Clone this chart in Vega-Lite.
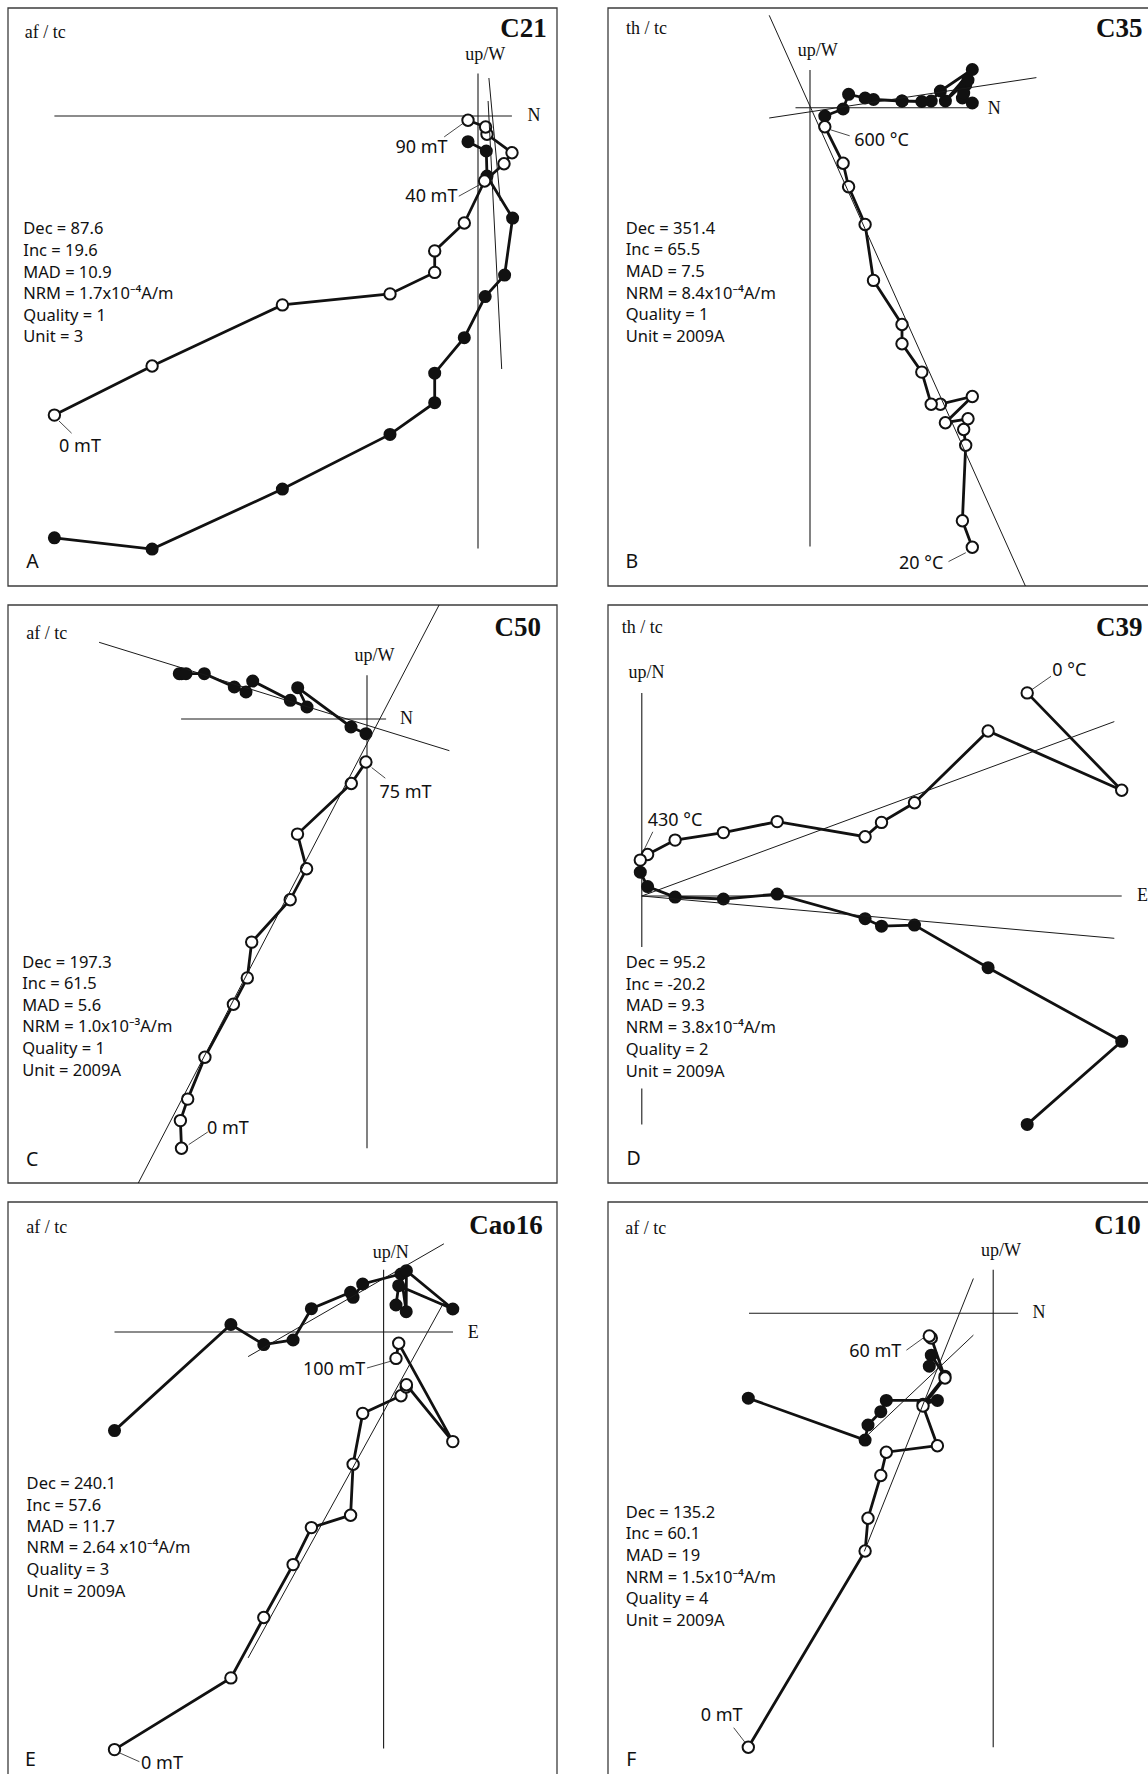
{
  "$schema": "https://vega.github.io/schema/vega-lite/v6.json",
  "padding": {"left": 7, "top": 7, "right": 0, "bottom": 0},
  "spacing": {"row": 17, "column": 49},
  "columns": 2,
  "config": {"view": {"stroke": null}},
  "data": {"values": [
    {"panel":"A","type":"frame","u":-470,"v":-470,"u2":79,"v2":108},
    {"panel":"A","type":"pt","kind":"vertical","step":1,"u":-423.6,"v":-299.1},
    {"panel":"A","type":"pt","kind":"vertical","step":2,"u":-325.9,"v":-250},
    {"panel":"A","type":"pt","kind":"vertical","step":3,"u":-195.6,"v":-188.9},
    {"panel":"A","type":"pt","kind":"vertical","step":4,"u":-88,"v":-177.9},
    {"panel":"A","type":"pt","kind":"vertical","step":5,"u":-43.3,"v":-156.4},
    {"panel":"A","type":"pt","kind":"vertical","step":6,"u":-43.3,"v":-134.9},
    {"panel":"A","type":"pt","kind":"vertical","step":7,"u":-13.7,"v":-107},
    {"panel":"A","type":"pt","kind":"vertical","step":8,"u":6.6,"v":-65},
    {"panel":"A","type":"pt","kind":"vertical","step":9,"u":26,"v":-47.7},
    {"panel":"A","type":"pt","kind":"vertical","step":10,"u":34,"v":-36.7},
    {"panel":"A","type":"pt","kind":"vertical","step":11,"u":9,"v":-18.3},
    {"panel":"A","type":"pt","kind":"vertical","step":12,"u":7.6,"v":-11},
    {"panel":"A","type":"pt","kind":"vertical","step":13,"u":-10,"v":-4.3},
    {"panel":"A","type":"pt","kind":"horizontal","step":1,"u":-423.6,"v":-421.8},
    {"panel":"A","type":"pt","kind":"horizontal","step":2,"u":-325.9,"v":-433.1},
    {"panel":"A","type":"pt","kind":"horizontal","step":3,"u":-195.6,"v":-373.1},
    {"panel":"A","type":"pt","kind":"horizontal","step":4,"u":-88,"v":-318.4},
    {"panel":"A","type":"pt","kind":"horizontal","step":5,"u":-43.3,"v":-286.7},
    {"panel":"A","type":"pt","kind":"horizontal","step":6,"u":-43.3,"v":-257.2},
    {"panel":"A","type":"pt","kind":"horizontal","step":7,"u":-13.7,"v":-221.7},
    {"panel":"A","type":"pt","kind":"horizontal","step":8,"u":7.2,"v":-180.6},
    {"panel":"A","type":"pt","kind":"horizontal","step":9,"u":26.6,"v":-159.1},
    {"panel":"A","type":"pt","kind":"horizontal","step":10,"u":34.6,"v":-102.1},
    {"panel":"A","type":"pt","kind":"horizontal","step":11,"u":9,"v":-60},
    {"panel":"A","type":"pt","kind":"horizontal","step":12,"u":8.3,"v":-35},
    {"panel":"A","type":"pt","kind":"horizontal","step":13,"u":-10,"v":-25.7},
    {"panel":"A","type":"seg","kind":"axis","u":-423.6,"v":0,"u2":33.9,"v2":0},
    {"panel":"A","type":"seg","kind":"axis","u":0,"v":42.5,"u2":0,"v2":-432.4},
    {"panel":"A","type":"seg","kind":"fit","u":10.9,"v":38,"u2":22.3,"v2":-85},
    {"panel":"A","type":"seg","kind":"fit","u":10.1,"v":15,"u2":23.7,"v2":-253},
    {"panel":"A","type":"seg","kind":"leader","u":-33.8,"v":-20.9,"u2":-14.7,"v2":-7.2},
    {"panel":"A","type":"seg","kind":"leader","u":-19.2,"v":-80.2,"u2":1.8,"v2":-68.6},
    {"panel":"A","type":"seg","kind":"leader","u":-419,"v":-305,"u2":-406.4,"v2":-317.2},
    {"panel":"A","type":"label","kind":"serif","u":55.9,"v":0,"text":"N"},
    {"panel":"A","type":"label","kind":"serif","u":7.2,"v":61,"text":"up/W"},
    {"panel":"A","type":"label","kind":"serif","u":-432.8,"v":82.9,"text":"af / tc"},
    {"panel":"A","type":"label","kind":"title","u":68.7,"v":86.7,"text":"C21"},
    {"panel":"A","type":"label","kind":"step","u":-56.5,"v":-32.2,"text":"90 mT"},
    {"panel":"A","type":"label","kind":"step","u":-46.6,"v":-81.3,"text":"40 mT"},
    {"panel":"A","type":"label","kind":"step","u":-398,"v":-330.5,"text":"0 mT"},
    {"panel":"A","type":"label","kind":"stats","u":-454.7,"v":-113.4,"text":"Dec = 87.6"},
    {"panel":"A","type":"label","kind":"stats","u":-454.7,"v":-134.9,"text":"Inc = 19.6"},
    {"panel":"A","type":"label","kind":"stats","u":-454.7,"v":-156.8,"text":"MAD = 10.9"},
    {"panel":"A","type":"label","kind":"stats","u":-454.7,"v":-178.3,"text":"NRM = 1.7x10⁻⁴A/m"},
    {"panel":"A","type":"label","kind":"stats","u":-454.7,"v":-199.8,"text":"Quality = 1"},
    {"panel":"A","type":"label","kind":"stats","u":-454.7,"v":-221,"text":"Unit = 3"},
    {"panel":"A","type":"label","kind":"letter","u":-445.6,"v":-445.6,"text":"A"},

    {"panel":"B","type":"frame","u":-202,"v":-478.2,"u2":347,"v2":99.8},
    {"panel":"B","type":"pt","kind":"vertical","step":1,"u":162.3,"v":-439.4},
    {"panel":"B","type":"pt","kind":"vertical","step":2,"u":152.4,"v":-413},
    {"panel":"B","type":"pt","kind":"vertical","step":3,"u":155.7,"v":-337.5},
    {"panel":"B","type":"pt","kind":"vertical","step":4,"u":153.7,"v":-321.7},
    {"panel":"B","type":"pt","kind":"vertical","step":5,"u":158,"v":-311},
    {"panel":"B","type":"pt","kind":"vertical","step":6,"u":135.4,"v":-314.9},
    {"panel":"B","type":"pt","kind":"vertical","step":7,"u":162.3,"v":-288.7},
    {"panel":"B","type":"pt","kind":"vertical","step":8,"u":130.4,"v":-296.4},
    {"panel":"B","type":"pt","kind":"vertical","step":9,"u":121.2,"v":-296.4},
    {"panel":"B","type":"pt","kind":"vertical","step":10,"u":111.8,"v":-264.3},
    {"panel":"B","type":"pt","kind":"vertical","step":11,"u":92,"v":-236},
    {"panel":"B","type":"pt","kind":"vertical","step":12,"u":92,"v":-216.7},
    {"panel":"B","type":"pt","kind":"vertical","step":13,"u":63.5,"v":-172.6},
    {"panel":"B","type":"pt","kind":"vertical","step":14,"u":55.1,"v":-116.7},
    {"panel":"B","type":"pt","kind":"vertical","step":15,"u":38.6,"v":-78.9},
    {"panel":"B","type":"pt","kind":"vertical","step":16,"u":33.1,"v":-55.5},
    {"panel":"B","type":"pt","kind":"vertical","step":17,"u":14.8,"v":-18.9},
    {"panel":"B","type":"pt","kind":"horizontal","step":1,"u":162.3,"v":4.8},
    {"panel":"B","type":"pt","kind":"horizontal","step":2,"u":152.4,"v":9.8},
    {"panel":"B","type":"pt","kind":"horizontal","step":3,"u":155.7,"v":22.8},
    {"panel":"B","type":"pt","kind":"horizontal","step":4,"u":153.7,"v":14.8},
    {"panel":"B","type":"pt","kind":"horizontal","step":5,"u":158,"v":27.8},
    {"panel":"B","type":"pt","kind":"horizontal","step":6,"u":135.4,"v":6.8},
    {"panel":"B","type":"pt","kind":"horizontal","step":7,"u":162.3,"v":38.3},
    {"panel":"B","type":"pt","kind":"horizontal","step":8,"u":130.4,"v":16.8},
    {"panel":"B","type":"pt","kind":"horizontal","step":9,"u":121.2,"v":6.8},
    {"panel":"B","type":"pt","kind":"horizontal","step":10,"u":111.8,"v":6.3},
    {"panel":"B","type":"pt","kind":"horizontal","step":11,"u":92,"v":6.8},
    {"panel":"B","type":"pt","kind":"horizontal","step":12,"u":92,"v":6.8},
    {"panel":"B","type":"pt","kind":"horizontal","step":13,"u":63.5,"v":8.3},
    {"panel":"B","type":"pt","kind":"horizontal","step":14,"u":55.1,"v":9.8},
    {"panel":"B","type":"pt","kind":"horizontal","step":15,"u":38.6,"v":13.5},
    {"panel":"B","type":"pt","kind":"horizontal","step":16,"u":33.1,"v":-1.2},
    {"panel":"B","type":"pt","kind":"horizontal","step":17,"u":14.8,"v":-8.2},
    {"panel":"B","type":"seg","kind":"axis","u":-14.5,"v":0,"u2":162.3,"v2":0},
    {"panel":"B","type":"seg","kind":"axis","u":0,"v":37.7,"u2":0,"v2":-438.7},
    {"panel":"B","type":"seg","kind":"fit","u":-40.8,"v":92.5,"u2":215.4,"v2":-478.2},
    {"panel":"B","type":"seg","kind":"fit","u":-40.8,"v":-10.2,"u2":226.4,"v2":30.2},
    {"panel":"B","type":"seg","kind":"leader","u":20.6,"v":-22,"u2":39.7,"v2":-28},
    {"panel":"B","type":"seg","kind":"leader","u":138.5,"v":-453.8,"u2":155.8,"v2":-444.9},
    {"panel":"B","type":"label","kind":"serif","u":184.3,"v":-0.8,"text":"N"},
    {"panel":"B","type":"label","kind":"serif","u":7.8,"v":56.6,"text":"up/W"},
    {"panel":"B","type":"label","kind":"serif","u":-163.5,"v":78.5,"text":"th / tc"},
    {"panel":"B","type":"label","kind":"title","u":332.5,"v":78.5,"text":"C35"},
    {"panel":"B","type":"label","kind":"step","u":71.5,"v":-33.6,"text":"600 °C"},
    {"panel":"B","type":"label","kind":"step","u":111.1,"v":-455.7,"text":"20 °C"},
    {"panel":"B","type":"label","kind":"stats","u":-184.3,"v":-120.8,"text":"Dec = 351.4"},
    {"panel":"B","type":"label","kind":"stats","u":-184.3,"v":-142.4,"text":"Inc = 65.5"},
    {"panel":"B","type":"label","kind":"stats","u":-184.3,"v":-164.2,"text":"MAD = 7.5"},
    {"panel":"B","type":"label","kind":"stats","u":-184.3,"v":-185.8,"text":"NRM = 8.4x10⁻⁴A/m"},
    {"panel":"B","type":"label","kind":"stats","u":-184.3,"v":-207.3,"text":"Quality = 1"},
    {"panel":"B","type":"label","kind":"stats","u":-184.3,"v":-229.2,"text":"Unit = 2009A"},
    {"panel":"B","type":"label","kind":"letter","u":-178.1,"v":-453.8,"text":"B"},

    {"panel":"C","type":"frame","u":-359,"v":-464,"u2":190,"v2":114},
    {"panel":"C","type":"pt","kind":"vertical","step":1,"u":-185.5,"v":-429.2},
    {"panel":"C","type":"pt","kind":"vertical","step":2,"u":-186.6,"v":-401.6},
    {"panel":"C","type":"pt","kind":"vertical","step":3,"u":-179.3,"v":-380.1},
    {"panel":"C","type":"pt","kind":"vertical","step":4,"u":-162.1,"v":-338.2},
    {"panel":"C","type":"pt","kind":"vertical","step":5,"u":-133.6,"v":-285.3},
    {"panel":"C","type":"pt","kind":"vertical","step":6,"u":-119.7,"v":-258.9},
    {"panel":"C","type":"pt","kind":"vertical","step":7,"u":-115.3,"v":-223.1},
    {"panel":"C","type":"pt","kind":"vertical","step":8,"u":-76.8,"v":-180.8},
    {"panel":"C","type":"pt","kind":"vertical","step":9,"u":-60.4,"v":-149.8},
    {"panel":"C","type":"pt","kind":"vertical","step":10,"u":-69.5,"v":-115.1},
    {"panel":"C","type":"pt","kind":"vertical","step":11,"u":-15.7,"v":-64.5},
    {"panel":"C","type":"pt","kind":"vertical","step":12,"u":-1.1,"v":-43},
    {"panel":"C","type":"pt","kind":"horizontal","step":1,"u":-185.5,"v":45.3},
    {"panel":"C","type":"pt","kind":"horizontal","step":2,"u":-187.7,"v":45.3},
    {"panel":"C","type":"pt","kind":"horizontal","step":3,"u":-181,"v":45.3},
    {"panel":"C","type":"pt","kind":"horizontal","step":4,"u":-162.7,"v":45.3},
    {"panel":"C","type":"pt","kind":"horizontal","step":5,"u":-132.7,"v":32},
    {"panel":"C","type":"pt","kind":"horizontal","step":6,"u":-121,"v":27},
    {"panel":"C","type":"pt","kind":"horizontal","step":7,"u":-114.3,"v":38},
    {"panel":"C","type":"pt","kind":"horizontal","step":8,"u":-76.7,"v":18.7},
    {"panel":"C","type":"pt","kind":"horizontal","step":9,"u":-60,"v":12},
    {"panel":"C","type":"pt","kind":"horizontal","step":10,"u":-69.3,"v":31.3},
    {"panel":"C","type":"pt","kind":"horizontal","step":11,"u":-16,"v":-8},
    {"panel":"C","type":"pt","kind":"horizontal","step":12,"u":-1,"v":-14.7},
    {"panel":"C","type":"seg","kind":"axis","u":-185.9,"v":0,"u2":19.1,"v2":0},
    {"panel":"C","type":"seg","kind":"axis","u":0,"v":43.8,"u2":0,"v2":-429.2},
    {"panel":"C","type":"seg","kind":"fit","u":-267.9,"v":76.7,"u2":82.4,"v2":-31.7},
    {"panel":"C","type":"seg","kind":"fit","u":72.1,"v":114,"u2":-228.7,"v2":-464},
    {"panel":"C","type":"seg","kind":"leader","u":4.7,"v":-48.6,"u2":18.3,"v2":-59.2},
    {"panel":"C","type":"seg","kind":"leader","u":-178.3,"v":-425.6,"u2":-159.2,"v2":-413},
    {"panel":"C","type":"label","kind":"serif","u":39.6,"v":0,"text":"N"},
    {"panel":"C","type":"label","kind":"serif","u":7.4,"v":62.7,"text":"up/W"},
    {"panel":"C","type":"label","kind":"serif","u":-320.2,"v":85.4,"text":"af / tc"},
    {"panel":"C","type":"label","kind":"title","u":173.9,"v":91,"text":"C50"},
    {"panel":"C","type":"label","kind":"step","u":38.5,"v":-74,"text":"75 mT"},
    {"panel":"C","type":"label","kind":"step","u":-139.1,"v":-410.3,"text":"0 mT"},
    {"panel":"C","type":"label","kind":"stats","u":-344.8,"v":-243.8,"text":"Dec = 197.3"},
    {"panel":"C","type":"label","kind":"stats","u":-344.8,"v":-264.9,"text":"Inc = 61.5"},
    {"panel":"C","type":"label","kind":"stats","u":-344.8,"v":-286.5,"text":"MAD = 5.6"},
    {"panel":"C","type":"label","kind":"stats","u":-344.8,"v":-308.4,"text":"NRM = 1.0x10⁻³A/m"},
    {"panel":"C","type":"label","kind":"stats","u":-344.8,"v":-329.9,"text":"Quality = 1"},
    {"panel":"C","type":"label","kind":"stats","u":-344.8,"v":-351.8,"text":"Unit = 2009A"},
    {"panel":"C","type":"label","kind":"letter","u":-334.9,"v":-441.3,"text":"C"},

    {"panel":"D","type":"frame","u":-33.8,"v":-287,"u2":515.2,"v2":291},
    {"panel":"D","type":"pt","kind":"vertical","step":1,"u":385.4,"v":203.1},
    {"panel":"D","type":"pt","kind":"vertical","step":2,"u":479.9,"v":105.7},
    {"panel":"D","type":"pt","kind":"vertical","step":3,"u":346.3,"v":165},
    {"panel":"D","type":"pt","kind":"vertical","step":4,"u":272.7,"v":93.2},
    {"panel":"D","type":"pt","kind":"vertical","step":5,"u":239.7,"v":73.6},
    {"panel":"D","type":"pt","kind":"vertical","step":6,"u":223.3,"v":59.3},
    {"panel":"D","type":"pt","kind":"vertical","step":7,"u":135.4,"v":74.4},
    {"panel":"D","type":"pt","kind":"vertical","step":8,"u":81.6,"v":63.4},
    {"panel":"D","type":"pt","kind":"vertical","step":9,"u":33.3,"v":55.9},
    {"panel":"D","type":"pt","kind":"vertical","step":10,"u":5.8,"v":41.5},
    {"panel":"D","type":"pt","kind":"vertical","step":11,"u":-1.5,"v":35.9},
    {"panel":"D","type":"pt","kind":"horizontal","step":1,"u":385.4,"v":-228.4},
    {"panel":"D","type":"pt","kind":"horizontal","step":2,"u":479.9,"v":-145.3},
    {"panel":"D","type":"pt","kind":"horizontal","step":3,"u":346.3,"v":-71.7},
    {"panel":"D","type":"pt","kind":"horizontal","step":4,"u":272.7,"v":-29.1},
    {"panel":"D","type":"pt","kind":"horizontal","step":5,"u":239.7,"v":-30.2},
    {"panel":"D","type":"pt","kind":"horizontal","step":6,"u":223.3,"v":-22.7},
    {"panel":"D","type":"pt","kind":"horizontal","step":7,"u":135.4,"v":1.9},
    {"panel":"D","type":"pt","kind":"horizontal","step":8,"u":81.6,"v":-3},
    {"panel":"D","type":"pt","kind":"horizontal","step":9,"u":33.3,"v":-1.1},
    {"panel":"D","type":"pt","kind":"horizontal","step":10,"u":5.8,"v":9.4},
    {"panel":"D","type":"pt","kind":"horizontal","step":11,"u":-1.5,"v":23.8},
    {"panel":"D","type":"seg","kind":"axis","u":0,"v":0,"u2":479.9,"v2":0},
    {"panel":"D","type":"seg","kind":"axis","u":0,"v":203.1,"u2":0,"v2":-51},
    {"panel":"D","type":"seg","kind":"axis","u":0,"v":-192.5,"u2":0,"v2":-228.4},
    {"panel":"D","type":"seg","kind":"fit","u":0,"v":0,"u2":472.5,"v2":174.4},
    {"panel":"D","type":"seg","kind":"fit","u":0,"v":0,"u2":472.5,"v2":-42.3},
    {"panel":"D","type":"seg","kind":"leader","u":390.1,"v":206.4,"u2":409.2,"v2":219.7},
    {"panel":"D","type":"seg","kind":"leader","u":0.5,"v":42.5,"u2":11,"v2":64.2},
    {"panel":"D","type":"label","kind":"serif","u":500.7,"v":0,"text":"E"},
    {"panel":"D","type":"label","kind":"serif","u":4.7,"v":222.7,"text":"up/N"},
    {"panel":"D","type":"label","kind":"serif","u":0.4,"v":268,"text":"th / tc"},
    {"panel":"D","type":"label","kind":"title","u":500.7,"v":268,"text":"C39"},
    {"panel":"D","type":"label","kind":"step","u":427.5,"v":224.6,"text":"0 °C"},
    {"panel":"D","type":"label","kind":"step","u":33.3,"v":75.5,"text":"430 °C"},
    {"panel":"D","type":"label","kind":"stats","u":-16.1,"v":-66.8,"text":"Dec = 95.2"},
    {"panel":"D","type":"label","kind":"stats","u":-16.1,"v":-88.7,"text":"Inc = -20.2"},
    {"panel":"D","type":"label","kind":"stats","u":-16.1,"v":-110.2,"text":"MAD = 9.3"},
    {"panel":"D","type":"label","kind":"stats","u":-16.1,"v":-132.1,"text":"NRM = 3.8x10⁻⁴A/m"},
    {"panel":"D","type":"label","kind":"stats","u":-16.1,"v":-154,"text":"Quality = 2"},
    {"panel":"D","type":"label","kind":"stats","u":-16.1,"v":-175.5,"text":"Unit = 2009A"},
    {"panel":"D","type":"label","kind":"letter","u":-8.1,"v":-263.1,"text":"D"},

    {"panel":"E","type":"frame","u":-375.6,"v":-448,"u2":173.4,"v2":130},
    {"panel":"E","type":"pt","kind":"vertical","step":1,"u":-269.1,"v":-417.6},
    {"panel":"E","type":"pt","kind":"vertical","step":2,"u":-152.7,"v":-345.9},
    {"panel":"E","type":"pt","kind":"vertical","step":3,"u":-119.8,"v":-285.5},
    {"panel":"E","type":"pt","kind":"vertical","step":4,"u":-90.5,"v":-232.6},
    {"panel":"E","type":"pt","kind":"vertical","step":5,"u":-72.2,"v":-195.6},
    {"panel":"E","type":"pt","kind":"vertical","step":6,"u":-33,"v":-183.2},
    {"panel":"E","type":"pt","kind":"vertical","step":7,"u":-30.5,"v":-132.2},
    {"panel":"E","type":"pt","kind":"vertical","step":8,"u":-20.9,"v":-81.4},
    {"panel":"E","type":"pt","kind":"vertical","step":9,"u":17.4,"v":-63.7},
    {"panel":"E","type":"pt","kind":"vertical","step":10,"u":22.6,"v":-55},
    {"panel":"E","type":"pt","kind":"vertical","step":11,"u":22.8,"v":-52.8},
    {"panel":"E","type":"pt","kind":"vertical","step":12,"u":69.2,"v":-109.6},
    {"panel":"E","type":"pt","kind":"vertical","step":13,"u":15.1,"v":-11.3},
    {"panel":"E","type":"pt","kind":"vertical","step":14,"u":12.4,"v":-26.4},
    {"panel":"E","type":"pt","kind":"horizontal","step":1,"u":-269.1,"v":-98.6},
    {"panel":"E","type":"pt","kind":"horizontal","step":2,"u":-152.7,"v":7.5},
    {"panel":"E","type":"pt","kind":"horizontal","step":3,"u":-119.8,"v":-12.6},
    {"panel":"E","type":"pt","kind":"horizontal","step":4,"u":-90.5,"v":-8},
    {"panel":"E","type":"pt","kind":"horizontal","step":5,"u":-72.2,"v":23.3},
    {"panel":"E","type":"pt","kind":"horizontal","step":6,"u":-33,"v":39.7},
    {"panel":"E","type":"pt","kind":"horizontal","step":7,"u":-30.5,"v":34.7},
    {"panel":"E","type":"pt","kind":"horizontal","step":8,"u":-20.9,"v":48},
    {"panel":"E","type":"pt","kind":"horizontal","step":9,"u":17.4,"v":58},
    {"panel":"E","type":"pt","kind":"horizontal","step":10,"u":22.6,"v":20.3},
    {"panel":"E","type":"pt","kind":"horizontal","step":11,"u":22.8,"v":61.3},
    {"panel":"E","type":"pt","kind":"horizontal","step":12,"u":69.2,"v":23},
    {"panel":"E","type":"pt","kind":"horizontal","step":13,"u":15.1,"v":46.3},
    {"panel":"E","type":"pt","kind":"horizontal","step":14,"u":12.4,"v":27},
    {"panel":"E","type":"seg","kind":"axis","u":-269.1,"v":0,"u2":69.4,"v2":0},
    {"panel":"E","type":"seg","kind":"axis","u":0,"v":62.2,"u2":0,"v2":-416.5},
    {"panel":"E","type":"seg","kind":"fit","u":-135.5,"v":-24.6,"u2":60.3,"v2":88.2},
    {"panel":"E","type":"seg","kind":"fit","u":-135.5,"v":-325.9,"u2":60.3,"v2":29.7},
    {"panel":"E","type":"seg","kind":"leader","u":-16.6,"v":-36,"u2":7.3,"v2":-29.2},
    {"panel":"E","type":"seg","kind":"leader","u":-264.5,"v":-420.7,"u2":-244.2,"v2":-429.7},
    {"panel":"E","type":"label","kind":"serif","u":89.6,"v":-0.5,"text":"E"},
    {"panel":"E","type":"label","kind":"serif","u":7.2,"v":78.8,"text":"up/N"},
    {"panel":"E","type":"label","kind":"serif","u":-336.8,"v":104.5,"text":"af / tc"},
    {"panel":"E","type":"label","kind":"title","u":159.1,"v":106.4,"text":"Cao16"},
    {"panel":"E","type":"label","kind":"step","u":-49.5,"v":-38.2,"text":"100 mT"},
    {"panel":"E","type":"label","kind":"step","u":-221.6,"v":-431.6,"text":"0 mT"},
    {"panel":"E","type":"label","kind":"stats","u":-357,"v":-152.2,"text":"Dec = 240.1"},
    {"panel":"E","type":"label","kind":"stats","u":-357,"v":-173.7,"text":"Inc = 57.6"},
    {"panel":"E","type":"label","kind":"stats","u":-357,"v":-194.9,"text":"MAD = 11.7"},
    {"panel":"E","type":"label","kind":"stats","u":-357,"v":-216.4,"text":"NRM = 2.64 x10⁻⁴A/m"},
    {"panel":"E","type":"label","kind":"stats","u":-357,"v":-238.3,"text":"Quality = 3"},
    {"panel":"E","type":"label","kind":"stats","u":-357,"v":-259.8,"text":"Unit = 2009A"},
    {"panel":"E","type":"label","kind":"letter","u":-353.3,"v":-427.8,"text":"E"},

    {"panel":"F","type":"frame","u":-385.2,"v":-466.8,"u2":163.8,"v2":111.2},
    {"panel":"F","type":"pt","kind":"vertical","step":1,"u":-244.9,"v":-434.1},
    {"panel":"F","type":"pt","kind":"vertical","step":2,"u":-128.1,"v":-237.8},
    {"panel":"F","type":"pt","kind":"vertical","step":3,"u":-125.2,"v":-205},
    {"panel":"F","type":"pt","kind":"vertical","step":4,"u":-112.4,"v":-162.3},
    {"panel":"F","type":"pt","kind":"vertical","step":5,"u":-106.9,"v":-139},
    {"panel":"F","type":"pt","kind":"vertical","step":6,"u":-55.8,"v":-132.5},
    {"panel":"F","type":"pt","kind":"vertical","step":7,"u":-70.2,"v":-92.8},
    {"panel":"F","type":"pt","kind":"vertical","step":8,"u":-48.2,"v":-64.8},
    {"panel":"F","type":"pt","kind":"vertical","step":9,"u":-61.9,"v":-24.8},
    {"panel":"F","type":"pt","kind":"vertical","step":10,"u":-63.9,"v":-22.8},
    {"panel":"F","type":"pt","kind":"horizontal","step":1,"u":-244.9,"v":-85},
    {"panel":"F","type":"pt","kind":"horizontal","step":2,"u":-128.1,"v":-126.9},
    {"panel":"F","type":"pt","kind":"horizontal","step":3,"u":-125.2,"v":-111.8},
    {"panel":"F","type":"pt","kind":"horizontal","step":4,"u":-112.4,"v":-98.5},
    {"panel":"F","type":"pt","kind":"horizontal","step":5,"u":-106.9,"v":-87.2},
    {"panel":"F","type":"pt","kind":"horizontal","step":6,"u":-55.8,"v":-87.2},
    {"panel":"F","type":"pt","kind":"horizontal","step":7,"u":-70.2,"v":-91},
    {"panel":"F","type":"pt","kind":"horizontal","step":8,"u":-48.2,"v":-63},
    {"panel":"F","type":"pt","kind":"horizontal","step":9,"u":-61.9,"v":-42},
    {"panel":"F","type":"pt","kind":"horizontal","step":10,"u":-63.9,"v":-53},
    {"panel":"F","type":"seg","kind":"axis","u":-244.2,"v":0,"u2":24.9,"v2":0},
    {"panel":"F","type":"seg","kind":"axis","u":0,"v":43.4,"u2":0,"v2":-434.1},
    {"panel":"F","type":"seg","kind":"fit","u":-19.8,"v":34.7,"u2":-128.9,"v2":-238.2},
    {"panel":"F","type":"seg","kind":"fit","u":-19.8,"v":-21.9,"u2":-128.9,"v2":-125},
    {"panel":"F","type":"seg","kind":"leader","u":-86.8,"v":-37,"u2":-69.5,"v2":-24.5},
    {"panel":"F","type":"seg","kind":"leader","u":-259.5,"v":-414.5,"u2":-247.7,"v2":-429.8},
    {"panel":"F","type":"label","kind":"serif","u":45.8,"v":0,"text":"N"},
    {"panel":"F","type":"label","kind":"serif","u":7.7,"v":62.3,"text":"up/W"},
    {"panel":"F","type":"label","kind":"serif","u":-347.4,"v":84.5,"text":"af / tc"},
    {"panel":"F","type":"label","kind":"title","u":147.5,"v":87.6,"text":"C10"},
    {"panel":"F","type":"label","kind":"step","u":-117.9,"v":-38.9,"text":"60 mT"},
    {"panel":"F","type":"label","kind":"step","u":-271.6,"v":-402.4,"text":"0 mT"},
    {"panel":"F","type":"label","kind":"stats","u":-367.5,"v":-199.3,"text":"Dec = 135.2"},
    {"panel":"F","type":"label","kind":"stats","u":-367.5,"v":-220.9,"text":"Inc = 60.1"},
    {"panel":"F","type":"label","kind":"stats","u":-367.5,"v":-242.8,"text":"MAD = 19"},
    {"panel":"F","type":"label","kind":"stats","u":-367.5,"v":-264.3,"text":"NRM = 1.5x10⁻⁴A/m"},
    {"panel":"F","type":"label","kind":"stats","u":-367.5,"v":-286.2,"text":"Quality = 4"},
    {"panel":"F","type":"label","kind":"stats","u":-367.5,"v":-307.7,"text":"Unit = 2009A"},
    {"panel":"F","type":"label","kind":"letter","u":-362,"v":-446.6,"text":"F"}
  ]},
  "concat": [
    {"transform": [{"filter": "datum.panel === 'A'"}], "width": 549, "height": 578,
     "encoding": {"x": {"field": "u", "type": "quantitative", "axis": null, "scale": {"zero": false, "nice": false, "padding": 0}}, "y": {"field": "v", "type": "quantitative", "axis": null, "scale": {"zero": false, "nice": false, "padding": 0}}},
     "layer": [
      {"transform": [{"filter": "datum.type === 'frame'"}], "mark": {"type": "rect", "filled": false, "stroke": "#3c3c3c", "strokeWidth": 1.3}, "encoding": {"x2": {"field": "u2"}, "y2": {"field": "v2"}}},
      {"transform": [{"filter": "datum.type === 'seg' && datum.kind === 'axis'"}], "mark": {"type": "rule", "color": "#1a1a1a", "strokeWidth": 1.1}, "encoding": {"x2": {"field": "u2"}, "y2": {"field": "v2"}}},
      {"transform": [{"filter": "datum.type === 'pt'"}], "mark": {"type": "line", "color": "#111111", "strokeWidth": 2.8}, "encoding": {"detail": {"field": "kind"}, "order": {"field": "step", "type": "quantitative"}}},
      {"transform": [{"filter": "datum.type === 'pt' && datum.kind === 'horizontal'"}], "mark": {"type": "point", "shape": "circle", "filled": true, "color": "#111111", "size": 170, "opacity": 1}},
      {"transform": [{"filter": "datum.type === 'pt' && datum.kind === 'vertical'"}], "mark": {"type": "point", "shape": "circle", "filled": true, "fill": "white", "stroke": "#111111", "strokeWidth": 2, "size": 130, "opacity": 1}},
      {"transform": [{"filter": "datum.type === 'seg' && datum.kind === 'fit'"}], "mark": {"type": "rule", "color": "#1a1a1a", "strokeWidth": 1}, "encoding": {"x2": {"field": "u2"}, "y2": {"field": "v2"}}},
      {"transform": [{"filter": "datum.type === 'seg' && datum.kind === 'leader'"}], "mark": {"type": "rule", "color": "#1a1a1a", "strokeWidth": 0.8}, "encoding": {"x2": {"field": "u2"}, "y2": {"field": "v2"}}},
      {"transform": [{"filter": "datum.type === 'label' && datum.kind === 'serif'"}], "mark": {"type": "text", "font": "Liberation Serif", "fontSize": 18, "align": "center", "baseline": "middle", "color": "#111111"}, "encoding": {"text": {"field": "text"}}},
      {"transform": [{"filter": "datum.type === 'label' && datum.kind === 'title'"}], "mark": {"type": "text", "font": "Liberation Serif", "fontWeight": "bold", "fontSize": 27, "align": "right", "baseline": "middle", "color": "#111111"}, "encoding": {"text": {"field": "text"}}},
      {"transform": [{"filter": "datum.type === 'label' && datum.kind === 'step'"}], "mark": {"type": "text", "font": "Noto Sans", "fontSize": 18, "align": "center", "baseline": "middle", "color": "#111111"}, "encoding": {"text": {"field": "text"}}},
      {"transform": [{"filter": "datum.type === 'label' && datum.kind === 'stats'"}], "mark": {"type": "text", "font": "Noto Sans", "fontSize": 16.5, "align": "left", "baseline": "middle", "color": "#111111"}, "encoding": {"text": {"field": "text"}}},
      {"transform": [{"filter": "datum.type === 'label' && datum.kind === 'letter'"}], "mark": {"type": "text", "font": "Noto Sans", "fontSize": 19.5, "align": "center", "baseline": "middle", "color": "#111111"}, "encoding": {"text": {"field": "text"}}}
     ]},
    {"transform": [{"filter": "datum.panel === 'B'"}], "width": 549, "height": 578,
     "encoding": {"x": {"field": "u", "type": "quantitative", "axis": null, "scale": {"zero": false, "nice": false, "padding": 0}}, "y": {"field": "v", "type": "quantitative", "axis": null, "scale": {"zero": false, "nice": false, "padding": 0}}},
     "layer": [
      {"transform": [{"filter": "datum.type === 'frame'"}], "mark": {"type": "rect", "filled": false, "stroke": "#3c3c3c", "strokeWidth": 1.3}, "encoding": {"x2": {"field": "u2"}, "y2": {"field": "v2"}}},
      {"transform": [{"filter": "datum.type === 'seg' && datum.kind === 'axis'"}], "mark": {"type": "rule", "color": "#1a1a1a", "strokeWidth": 1.1}, "encoding": {"x2": {"field": "u2"}, "y2": {"field": "v2"}}},
      {"transform": [{"filter": "datum.type === 'pt'"}], "mark": {"type": "line", "color": "#111111", "strokeWidth": 2.8}, "encoding": {"detail": {"field": "kind"}, "order": {"field": "step", "type": "quantitative"}}},
      {"transform": [{"filter": "datum.type === 'pt' && datum.kind === 'horizontal'"}], "mark": {"type": "point", "shape": "circle", "filled": true, "color": "#111111", "size": 170, "opacity": 1}},
      {"transform": [{"filter": "datum.type === 'pt' && datum.kind === 'vertical'"}], "mark": {"type": "point", "shape": "circle", "filled": true, "fill": "white", "stroke": "#111111", "strokeWidth": 2, "size": 130, "opacity": 1}},
      {"transform": [{"filter": "datum.type === 'seg' && datum.kind === 'fit'"}], "mark": {"type": "rule", "color": "#1a1a1a", "strokeWidth": 1}, "encoding": {"x2": {"field": "u2"}, "y2": {"field": "v2"}}},
      {"transform": [{"filter": "datum.type === 'seg' && datum.kind === 'leader'"}], "mark": {"type": "rule", "color": "#1a1a1a", "strokeWidth": 0.8}, "encoding": {"x2": {"field": "u2"}, "y2": {"field": "v2"}}},
      {"transform": [{"filter": "datum.type === 'label' && datum.kind === 'serif'"}], "mark": {"type": "text", "font": "Liberation Serif", "fontSize": 18, "align": "center", "baseline": "middle", "color": "#111111"}, "encoding": {"text": {"field": "text"}}},
      {"transform": [{"filter": "datum.type === 'label' && datum.kind === 'title'"}], "mark": {"type": "text", "font": "Liberation Serif", "fontWeight": "bold", "fontSize": 27, "align": "right", "baseline": "middle", "color": "#111111"}, "encoding": {"text": {"field": "text"}}},
      {"transform": [{"filter": "datum.type === 'label' && datum.kind === 'step'"}], "mark": {"type": "text", "font": "Noto Sans", "fontSize": 18, "align": "center", "baseline": "middle", "color": "#111111"}, "encoding": {"text": {"field": "text"}}},
      {"transform": [{"filter": "datum.type === 'label' && datum.kind === 'stats'"}], "mark": {"type": "text", "font": "Noto Sans", "fontSize": 16.5, "align": "left", "baseline": "middle", "color": "#111111"}, "encoding": {"text": {"field": "text"}}},
      {"transform": [{"filter": "datum.type === 'label' && datum.kind === 'letter'"}], "mark": {"type": "text", "font": "Noto Sans", "fontSize": 19.5, "align": "center", "baseline": "middle", "color": "#111111"}, "encoding": {"text": {"field": "text"}}}
     ]},
    {"transform": [{"filter": "datum.panel === 'C'"}], "width": 549, "height": 578,
     "encoding": {"x": {"field": "u", "type": "quantitative", "axis": null, "scale": {"zero": false, "nice": false, "padding": 0}}, "y": {"field": "v", "type": "quantitative", "axis": null, "scale": {"zero": false, "nice": false, "padding": 0}}},
     "layer": [
      {"transform": [{"filter": "datum.type === 'frame'"}], "mark": {"type": "rect", "filled": false, "stroke": "#3c3c3c", "strokeWidth": 1.3}, "encoding": {"x2": {"field": "u2"}, "y2": {"field": "v2"}}},
      {"transform": [{"filter": "datum.type === 'seg' && datum.kind === 'axis'"}], "mark": {"type": "rule", "color": "#1a1a1a", "strokeWidth": 1.1}, "encoding": {"x2": {"field": "u2"}, "y2": {"field": "v2"}}},
      {"transform": [{"filter": "datum.type === 'pt'"}], "mark": {"type": "line", "color": "#111111", "strokeWidth": 2.8}, "encoding": {"detail": {"field": "kind"}, "order": {"field": "step", "type": "quantitative"}}},
      {"transform": [{"filter": "datum.type === 'pt' && datum.kind === 'horizontal'"}], "mark": {"type": "point", "shape": "circle", "filled": true, "color": "#111111", "size": 170, "opacity": 1}},
      {"transform": [{"filter": "datum.type === 'pt' && datum.kind === 'vertical'"}], "mark": {"type": "point", "shape": "circle", "filled": true, "fill": "white", "stroke": "#111111", "strokeWidth": 2, "size": 130, "opacity": 1}},
      {"transform": [{"filter": "datum.type === 'seg' && datum.kind === 'fit'"}], "mark": {"type": "rule", "color": "#1a1a1a", "strokeWidth": 1}, "encoding": {"x2": {"field": "u2"}, "y2": {"field": "v2"}}},
      {"transform": [{"filter": "datum.type === 'seg' && datum.kind === 'leader'"}], "mark": {"type": "rule", "color": "#1a1a1a", "strokeWidth": 0.8}, "encoding": {"x2": {"field": "u2"}, "y2": {"field": "v2"}}},
      {"transform": [{"filter": "datum.type === 'label' && datum.kind === 'serif'"}], "mark": {"type": "text", "font": "Liberation Serif", "fontSize": 18, "align": "center", "baseline": "middle", "color": "#111111"}, "encoding": {"text": {"field": "text"}}},
      {"transform": [{"filter": "datum.type === 'label' && datum.kind === 'title'"}], "mark": {"type": "text", "font": "Liberation Serif", "fontWeight": "bold", "fontSize": 27, "align": "right", "baseline": "middle", "color": "#111111"}, "encoding": {"text": {"field": "text"}}},
      {"transform": [{"filter": "datum.type === 'label' && datum.kind === 'step'"}], "mark": {"type": "text", "font": "Noto Sans", "fontSize": 18, "align": "center", "baseline": "middle", "color": "#111111"}, "encoding": {"text": {"field": "text"}}},
      {"transform": [{"filter": "datum.type === 'label' && datum.kind === 'stats'"}], "mark": {"type": "text", "font": "Noto Sans", "fontSize": 16.5, "align": "left", "baseline": "middle", "color": "#111111"}, "encoding": {"text": {"field": "text"}}},
      {"transform": [{"filter": "datum.type === 'label' && datum.kind === 'letter'"}], "mark": {"type": "text", "font": "Noto Sans", "fontSize": 19.5, "align": "center", "baseline": "middle", "color": "#111111"}, "encoding": {"text": {"field": "text"}}}
     ]},
    {"transform": [{"filter": "datum.panel === 'D'"}], "width": 549, "height": 578,
     "encoding": {"x": {"field": "u", "type": "quantitative", "axis": null, "scale": {"zero": false, "nice": false, "padding": 0}}, "y": {"field": "v", "type": "quantitative", "axis": null, "scale": {"zero": false, "nice": false, "padding": 0}}},
     "layer": [
      {"transform": [{"filter": "datum.type === 'frame'"}], "mark": {"type": "rect", "filled": false, "stroke": "#3c3c3c", "strokeWidth": 1.3}, "encoding": {"x2": {"field": "u2"}, "y2": {"field": "v2"}}},
      {"transform": [{"filter": "datum.type === 'seg' && datum.kind === 'axis'"}], "mark": {"type": "rule", "color": "#1a1a1a", "strokeWidth": 1.1}, "encoding": {"x2": {"field": "u2"}, "y2": {"field": "v2"}}},
      {"transform": [{"filter": "datum.type === 'pt'"}], "mark": {"type": "line", "color": "#111111", "strokeWidth": 2.8}, "encoding": {"detail": {"field": "kind"}, "order": {"field": "step", "type": "quantitative"}}},
      {"transform": [{"filter": "datum.type === 'pt' && datum.kind === 'horizontal'"}], "mark": {"type": "point", "shape": "circle", "filled": true, "color": "#111111", "size": 170, "opacity": 1}},
      {"transform": [{"filter": "datum.type === 'pt' && datum.kind === 'vertical'"}], "mark": {"type": "point", "shape": "circle", "filled": true, "fill": "white", "stroke": "#111111", "strokeWidth": 2, "size": 130, "opacity": 1}},
      {"transform": [{"filter": "datum.type === 'seg' && datum.kind === 'fit'"}], "mark": {"type": "rule", "color": "#1a1a1a", "strokeWidth": 1}, "encoding": {"x2": {"field": "u2"}, "y2": {"field": "v2"}}},
      {"transform": [{"filter": "datum.type === 'seg' && datum.kind === 'leader'"}], "mark": {"type": "rule", "color": "#1a1a1a", "strokeWidth": 0.8}, "encoding": {"x2": {"field": "u2"}, "y2": {"field": "v2"}}},
      {"transform": [{"filter": "datum.type === 'label' && datum.kind === 'serif'"}], "mark": {"type": "text", "font": "Liberation Serif", "fontSize": 18, "align": "center", "baseline": "middle", "color": "#111111"}, "encoding": {"text": {"field": "text"}}},
      {"transform": [{"filter": "datum.type === 'label' && datum.kind === 'title'"}], "mark": {"type": "text", "font": "Liberation Serif", "fontWeight": "bold", "fontSize": 27, "align": "right", "baseline": "middle", "color": "#111111"}, "encoding": {"text": {"field": "text"}}},
      {"transform": [{"filter": "datum.type === 'label' && datum.kind === 'step'"}], "mark": {"type": "text", "font": "Noto Sans", "fontSize": 18, "align": "center", "baseline": "middle", "color": "#111111"}, "encoding": {"text": {"field": "text"}}},
      {"transform": [{"filter": "datum.type === 'label' && datum.kind === 'stats'"}], "mark": {"type": "text", "font": "Noto Sans", "fontSize": 16.5, "align": "left", "baseline": "middle", "color": "#111111"}, "encoding": {"text": {"field": "text"}}},
      {"transform": [{"filter": "datum.type === 'label' && datum.kind === 'letter'"}], "mark": {"type": "text", "font": "Noto Sans", "fontSize": 19.5, "align": "center", "baseline": "middle", "color": "#111111"}, "encoding": {"text": {"field": "text"}}}
     ]},
    {"transform": [{"filter": "datum.panel === 'E'"}], "width": 549, "height": 578,
     "encoding": {"x": {"field": "u", "type": "quantitative", "axis": null, "scale": {"zero": false, "nice": false, "padding": 0}}, "y": {"field": "v", "type": "quantitative", "axis": null, "scale": {"zero": false, "nice": false, "padding": 0}}},
     "layer": [
      {"transform": [{"filter": "datum.type === 'frame'"}], "mark": {"type": "rect", "filled": false, "stroke": "#3c3c3c", "strokeWidth": 1.3}, "encoding": {"x2": {"field": "u2"}, "y2": {"field": "v2"}}},
      {"transform": [{"filter": "datum.type === 'seg' && datum.kind === 'axis'"}], "mark": {"type": "rule", "color": "#1a1a1a", "strokeWidth": 1.1}, "encoding": {"x2": {"field": "u2"}, "y2": {"field": "v2"}}},
      {"transform": [{"filter": "datum.type === 'pt'"}], "mark": {"type": "line", "color": "#111111", "strokeWidth": 2.8}, "encoding": {"detail": {"field": "kind"}, "order": {"field": "step", "type": "quantitative"}}},
      {"transform": [{"filter": "datum.type === 'pt' && datum.kind === 'horizontal'"}], "mark": {"type": "point", "shape": "circle", "filled": true, "color": "#111111", "size": 170, "opacity": 1}},
      {"transform": [{"filter": "datum.type === 'pt' && datum.kind === 'vertical'"}], "mark": {"type": "point", "shape": "circle", "filled": true, "fill": "white", "stroke": "#111111", "strokeWidth": 2, "size": 130, "opacity": 1}},
      {"transform": [{"filter": "datum.type === 'seg' && datum.kind === 'fit'"}], "mark": {"type": "rule", "color": "#1a1a1a", "strokeWidth": 1}, "encoding": {"x2": {"field": "u2"}, "y2": {"field": "v2"}}},
      {"transform": [{"filter": "datum.type === 'seg' && datum.kind === 'leader'"}], "mark": {"type": "rule", "color": "#1a1a1a", "strokeWidth": 0.8}, "encoding": {"x2": {"field": "u2"}, "y2": {"field": "v2"}}},
      {"transform": [{"filter": "datum.type === 'label' && datum.kind === 'serif'"}], "mark": {"type": "text", "font": "Liberation Serif", "fontSize": 18, "align": "center", "baseline": "middle", "color": "#111111"}, "encoding": {"text": {"field": "text"}}},
      {"transform": [{"filter": "datum.type === 'label' && datum.kind === 'title'"}], "mark": {"type": "text", "font": "Liberation Serif", "fontWeight": "bold", "fontSize": 27, "align": "right", "baseline": "middle", "color": "#111111"}, "encoding": {"text": {"field": "text"}}},
      {"transform": [{"filter": "datum.type === 'label' && datum.kind === 'step'"}], "mark": {"type": "text", "font": "Noto Sans", "fontSize": 18, "align": "center", "baseline": "middle", "color": "#111111"}, "encoding": {"text": {"field": "text"}}},
      {"transform": [{"filter": "datum.type === 'label' && datum.kind === 'stats'"}], "mark": {"type": "text", "font": "Noto Sans", "fontSize": 16.5, "align": "left", "baseline": "middle", "color": "#111111"}, "encoding": {"text": {"field": "text"}}},
      {"transform": [{"filter": "datum.type === 'label' && datum.kind === 'letter'"}], "mark": {"type": "text", "font": "Noto Sans", "fontSize": 19.5, "align": "center", "baseline": "middle", "color": "#111111"}, "encoding": {"text": {"field": "text"}}}
     ]},
    {"transform": [{"filter": "datum.panel === 'F'"}], "width": 549, "height": 578,
     "encoding": {"x": {"field": "u", "type": "quantitative", "axis": null, "scale": {"zero": false, "nice": false, "padding": 0}}, "y": {"field": "v", "type": "quantitative", "axis": null, "scale": {"zero": false, "nice": false, "padding": 0}}},
     "layer": [
      {"transform": [{"filter": "datum.type === 'frame'"}], "mark": {"type": "rect", "filled": false, "stroke": "#3c3c3c", "strokeWidth": 1.3}, "encoding": {"x2": {"field": "u2"}, "y2": {"field": "v2"}}},
      {"transform": [{"filter": "datum.type === 'seg' && datum.kind === 'axis'"}], "mark": {"type": "rule", "color": "#1a1a1a", "strokeWidth": 1.1}, "encoding": {"x2": {"field": "u2"}, "y2": {"field": "v2"}}},
      {"transform": [{"filter": "datum.type === 'pt'"}], "mark": {"type": "line", "color": "#111111", "strokeWidth": 2.8}, "encoding": {"detail": {"field": "kind"}, "order": {"field": "step", "type": "quantitative"}}},
      {"transform": [{"filter": "datum.type === 'pt' && datum.kind === 'horizontal'"}], "mark": {"type": "point", "shape": "circle", "filled": true, "color": "#111111", "size": 170, "opacity": 1}},
      {"transform": [{"filter": "datum.type === 'pt' && datum.kind === 'vertical'"}], "mark": {"type": "point", "shape": "circle", "filled": true, "fill": "white", "stroke": "#111111", "strokeWidth": 2, "size": 130, "opacity": 1}},
      {"transform": [{"filter": "datum.type === 'seg' && datum.kind === 'fit'"}], "mark": {"type": "rule", "color": "#1a1a1a", "strokeWidth": 1}, "encoding": {"x2": {"field": "u2"}, "y2": {"field": "v2"}}},
      {"transform": [{"filter": "datum.type === 'seg' && datum.kind === 'leader'"}], "mark": {"type": "rule", "color": "#1a1a1a", "strokeWidth": 0.8}, "encoding": {"x2": {"field": "u2"}, "y2": {"field": "v2"}}},
      {"transform": [{"filter": "datum.type === 'label' && datum.kind === 'serif'"}], "mark": {"type": "text", "font": "Liberation Serif", "fontSize": 18, "align": "center", "baseline": "middle", "color": "#111111"}, "encoding": {"text": {"field": "text"}}},
      {"transform": [{"filter": "datum.type === 'label' && datum.kind === 'title'"}], "mark": {"type": "text", "font": "Liberation Serif", "fontWeight": "bold", "fontSize": 27, "align": "right", "baseline": "middle", "color": "#111111"}, "encoding": {"text": {"field": "text"}}},
      {"transform": [{"filter": "datum.type === 'label' && datum.kind === 'step'"}], "mark": {"type": "text", "font": "Noto Sans", "fontSize": 18, "align": "center", "baseline": "middle", "color": "#111111"}, "encoding": {"text": {"field": "text"}}},
      {"transform": [{"filter": "datum.type === 'label' && datum.kind === 'stats'"}], "mark": {"type": "text", "font": "Noto Sans", "fontSize": 16.5, "align": "left", "baseline": "middle", "color": "#111111"}, "encoding": {"text": {"field": "text"}}},
      {"transform": [{"filter": "datum.type === 'label' && datum.kind === 'letter'"}], "mark": {"type": "text", "font": "Noto Sans", "fontSize": 19.5, "align": "center", "baseline": "middle", "color": "#111111"}, "encoding": {"text": {"field": "text"}}}
     ]}
  ]
}
